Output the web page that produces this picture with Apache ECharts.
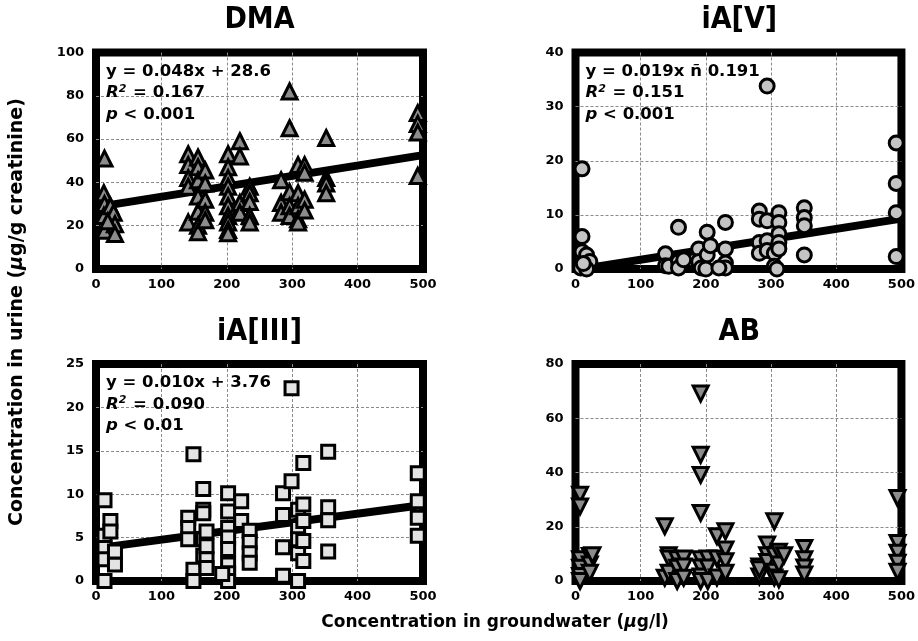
<!DOCTYPE html>
<html><head><meta charset="utf-8">
<script src="https://cdn.jsdelivr.net/npm/echarts@6/dist/echarts.min.js"></script>
<style>html,body{margin:0;padding:0;background:#fff}#c{width:918px;height:641px}</style>
</head><body><div id="c"></div>
<script>
// ---- data ----
const panelTitles = ['DMA', 'iA[V]', 'iA[III]', 'AB'];
const xTicks = [0, 100, 200, 300, 400, 500];
const yMax = [100, 40, 25, 80];
const yStep = [20, 10, 5, 20];
const slopes = [0.048, 0.019, 0.010, null];
const intercepts = [28.6, -0.191, 3.76, null];
const eqText = ['y = 0.048x + 28.6', 'y = 0.019x ñ 0.191', 'y = 0.010x + 3.76', null];
const r2Text = ['0.167', '0.151', '0.090', null];
const pText = ['0.001', '0.001', '0.01', null];

const dmaX = [13,12,13,12,13,22,27,29,29,18, 141,141,141,141,141, 156,156,156,156,156,156,156, 167,167,167,167,167, 202,202,202,202,202,202,202,202,202,202, 220,220,220,220, 235,235,235,235,235, 283,283,283, 296,296,296,296,296, 309,309,309,309,309, 319,319,319,319, 352,352,352,352, 492,492,492,492];
const dmaY = [51,35,30,24.5,17.7,29,26,20.7,16.2,22, 53,48,42,38,21.5, 51.5,47,41,33.5,26.5,20,17, 45.5,39.5,32,26,22.5, 53,47,42,38,33.5,29,24.5,21.5,18,16.5, 59,52,30.5,26, 38,35,31,24.5,21.5, 41,30.5,26, 82,65,35.5,29,24.5, 48,35,29,23,21.5, 48,44.5,32,27, 60.5,42,39.5,35, 72,67,63,43];

const ia5X = [10,10,10,17,22,8,17,12, 138,138,143,158,158,158,166,189,189,193,202,202,200,207,230,230,230,230,220, 282,282,282,282,294,294,294,294,305,305,312,312,312,312,312,309, 351,351,351,351, 492,492,492,492];
const ia5Y = [18.5,6,3.2,2.6,1.4,0.2,0,1.0, 2.8,0.6,0.5,7.7,1.4,0.2,1.7,3.7,1.4,0.2,6.8,2.6,0,4.3,8.6,3.7,1.1,0.2,0.2, 10.7,9.2,4.9,2.9,33.8,8.9,5.2,3.4,2.9,0.5,10.4,8.6,6.5,4.9,3.7,0, 11.3,9.5,8.0,2.6, 23.3,15.8,10.4,2.3];

const ia3X = [13,13,13,13,13,22,22,29,29, 141,141,141,149,149,149,164,164,164,164,164,169,169,169,169, 202,202,202,202,202,202,202,202,193,222,222,235,235,235,235, 286,286,286,286,299,299,309,309,309,309,309,317,317,317,317,317, 355,355,355,355, 492,492,492,492];
const ia3Y = [9.3,5.2,3.8,2.5,0,6.9,5.7,1.9,3.4, 7.3,6.1,4.8,14.6,1.3,0,10.6,8.2,7.8,4.8,2.9,5.7,4.0,2.5,1.5, 10.1,8.0,6.1,5.0,3.7,1.9,0.9,0,0.8,9.2,6.9,5.8,4.5,3.2,2.1, 10.1,7.6,3.9,0.6,11.5,22.2,8.2,6.1,4.8,3.2,0,13.6,8.8,6.9,2.3,4.6, 14.9,8.5,7.0,3.4, 12.4,9.2,7.3,5.2];

const abX = [7,7,7,7,7,7,22,22,22,26, 137,137,143,143,143,156,156,156,166,166,166, 192,192,192,192,192,192,192,192,203,203,203, 217,217,217,230,230,230,230, 282,282,282,294,294,294,305,305,305,305,312,312,312,320, 351,351,351,351, 494,494,494,494,494];
const abY = [31.8,27.5,8,4.9,1.8,0,9.2,6.1,3,9.5, 20.2,1.2,9.5,8.3,3,8,4.9,0,8.3,5.3,1.2, 69.1,46.5,39.1,25.1,8,5,1.7,0,8.3,5,0, 16.5,8.3,1.3,18.3,11.6,7.3,3, 5.3,1.7,4.3,13.5,9.5,7,22,9.5,3.4,1.3,10.8,6.1,0.6,9.5, 12.2,8,5,2.4, 30.6,14,10.4,6.7,3.4];

const seriesX = [dmaX, ia5X, ia3X, abX];
const seriesY = [dmaY, ia5Y, ia3Y, abY];

// ---- styling ----
const FONT = '"DejaVu Sans", Verdana, sans-serif';
const grids = [
  {left: 96, top: 52.5, width: 327, height: 216.5},
  {left: 575.5, top: 52.5, width: 327.5, height: 216.5},
  {left: 96, top: 364, width: 327, height: 217},
  {left: 575.5, top: 364, width: 327.5, height: 217}
];
const markers = [
  {symbol: 'triangle', size: 15, rotate: 0, fill: '#8c8c8c'},
  {symbol: 'circle', size: 14, rotate: 0, fill: '#c4c4c4'},
  {symbol: 'rect', size: 13, rotate: 0, fill: '#e4e4e4'},
  {symbol: 'triangle', size: 15, rotate: 180, fill: '#8c8c8c'}
];
const splitStyle = {show: true, showMinLine: false, showMaxLine: false, lineStyle: {color: '#8a8a8a', type: [3, 2], width: 1}};

const option = {
  backgroundColor: '#fff',
  animation: false,
  grid: grids.map(g => Object.assign({show: true, borderColor: '#000', borderWidth: 8, backgroundColor: '#fff'}, g)),
  xAxis: grids.map((g, i) => ({
    type: 'value', gridIndex: i, min: xTicks[0], max: xTicks[xTicks.length - 1], interval: xTicks[1] - xTicks[0],
    axisLine: {show: false}, axisTick: {show: false},
    splitLine: splitStyle,
    axisLabel: {margin: 9, color: '#000', fontFamily: FONT, fontWeight: 'bold', fontSize: 13}
  })),
  yAxis: grids.map((g, i) => ({
    type: 'value', gridIndex: i, min: 0, max: yMax[i], interval: yStep[i],
    axisLine: {show: false}, axisTick: {show: false},
    splitLine: splitStyle,
    axisLabel: {margin: 12, color: '#000', fontFamily: FONT, fontWeight: 'bold', fontSize: 13}
  })),
  series: [],
  graphic: []
};

for (let i = 0; i < 4; i++) {
  if (slopes[i] !== null) {
    const x0 = xTicks[0], x1 = xTicks[xTicks.length - 1];
    option.series.push({
      type: 'line', xAxisIndex: i, yAxisIndex: i, symbol: 'none', clip: true, z: 3,
      lineStyle: {color: '#000', width: 8},
      data: [[x0, slopes[i] * x0 + intercepts[i]], [x1, slopes[i] * x1 + intercepts[i]]]
    });
  }
  const m = markers[i];
  option.series.push({
    type: 'scatter', xAxisIndex: i, yAxisIndex: i, clip: false, z: 4,
    symbol: m.symbol, symbolSize: m.size, symbolRotate: m.rotate,
    itemStyle: {color: m.fill, borderColor: '#000', borderWidth: 3, opacity: 1},
    data: seriesX[i].map((x, k) => [x, seriesY[i][k]])
  });
  const g = grids[i];
  option.graphic.push({
    type: 'text', x: g.left + g.width / 2, y: g.top - 32, z: 10, scaleX: 0.9,
    style: {text: panelTitles[i], font: 'bold 30px ' + FONT, fill: '#000', textAlign: 'center', textVerticalAlign: 'middle'}
  });
  if (eqText[i]) {
    option.graphic.push({
      type: 'text', x: g.left + 10, y: g.top + 8, z: 10,
      style: {
        text: '{b|' + eqText[i] + '}\n{i|R}{s|2}{b| = ' + r2Text[i] + '}\n{i|p}{b| < ' + pText[i] + '}',
        fill: '#000', textAlign: 'left', textVerticalAlign: 'top',
        rich: {
          b: {fontFamily: FONT, fontWeight: 'bold', fontSize: 16.5, lineHeight: 21.5, fill: '#000'},
          i: {fontFamily: FONT, fontWeight: 'bold', fontStyle: 'italic', fontSize: 16.5, lineHeight: 21.5, fill: '#000'},
          s: {fontFamily: FONT, fontWeight: 'bold', fontStyle: 'italic', fontSize: 11, lineHeight: 21.5, padding: [0, 1, 8, 0], fill: '#000'}
        }
      }
    });
  }
}

option.graphic.push({
  type: 'text', x: 495, y: 623, z: 10,
  style: {
    text: '{b|Concentration in groundwater (}{i|μ}{b|g/l)}',
    textAlign: 'center', textVerticalAlign: 'middle',
    rich: {
      b: {fontFamily: FONT, fontWeight: 'bold', fontSize: 17, fill: '#000'},
      i: {fontFamily: FONT, fontWeight: 'bold', fontStyle: 'italic', fontSize: 17, fill: '#000'}
    }
  }
});
option.graphic.push({
  type: 'text', x: 17, y: 312, z: 10, rotation: Math.PI / 2,
  style: {
    text: '{b|Concentration in urine (}{i|μ}{b|g/g creatinine)}',
    textAlign: 'center', textVerticalAlign: 'middle',
    rich: {
      b: {fontFamily: FONT, fontWeight: 'bold', fontSize: 19, fill: '#000'},
      i: {fontFamily: FONT, fontWeight: 'bold', fontStyle: 'italic', fontSize: 19, fill: '#000'}
    }
  }
});

const chart = echarts.init(document.getElementById('c'), null, {renderer: 'canvas'});
chart.setOption(option);
</script></body></html>
